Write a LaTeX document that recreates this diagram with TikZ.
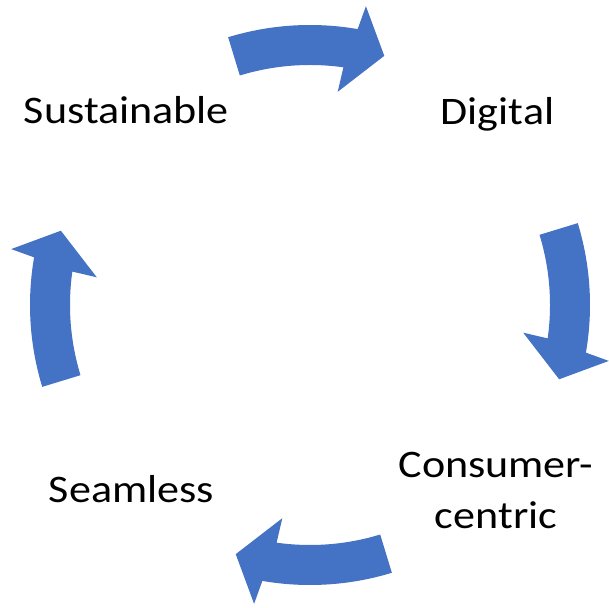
\documentclass[tikz,border=0pt]{standalone}
\usepackage{fontspec}
\setmainfont{Carlito}[FakeStretch=1.13]
\definecolor{arrowblue}{HTML}{4472C4}
\tikzset{
  lbl/.style={font=\fontsize{39}{51}\selectfont, text=black, inner sep=0pt, anchor=base, align=center},
  cyc/.style={fill=arrowblue, draw=none}
}
\newcommand{\cyclearrow}[1]{%
  \fill[cyc] (#1+17:280pt) arc[start angle=#1+17, end angle=#1-9.8, radius=280pt]
    -- (#1-10.6:304pt) -- (#1-16.6:260pt) -- (#1-7.4:215pt) -- (#1-8:240pt)
    arc[start angle=#1-8, end angle=#1+17, radius=240pt] -- cycle;}
\begin{document}
\begin{tikzpicture}[x=1pt,y=1pt]
\useasboundingbox (0,0) rectangle (609,607);
\coordinate (C) at (310,302);
\begin{scope}[shift={(C)}]
  \cyclearrow{90}
  \cyclearrow{0}
  \cyclearrow{-90}
  \cyclearrow{180}
\end{scope}
\node[lbl] (sust) at (126.5,483) {Sustainable};
\node[lbl] (dig) at (497.5,482) {Digital};
\node[lbl] (cons) at (496,79) {Consumer-\\centric};
\node[lbl] (seam) at (131.5,105) {Seamless};
\end{tikzpicture}
\end{document}
